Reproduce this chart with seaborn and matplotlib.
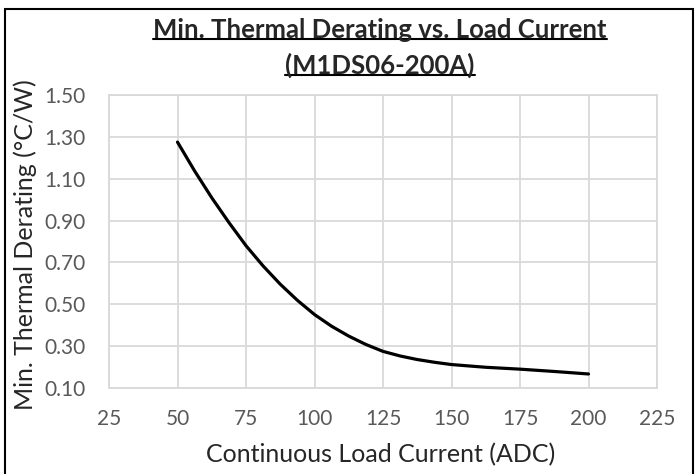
import matplotlib
matplotlib.use("Agg")
import matplotlib.pyplot as plt
import seaborn as sns
import pandas as pd
from matplotlib.lines import Line2D
from matplotlib.patches import Rectangle

# Values
current_adc = [50, 56.25, 62.5, 68.75, 75, 81.25, 87.5, 93.75, 100, 106.25, 112.5,
               118.75, 125, 131.25, 137.5, 143.75, 150, 162.5, 175, 187.5, 200]
derating_cw = [1.275, 1.137, 1.009, 0.891, 0.780, 0.683, 0.596, 0.519, 0.451, 0.395,
               0.348, 0.308, 0.275, 0.253, 0.236, 0.223, 0.212, 0.199, 0.190, 0.179,
               0.167]

x_ticks = [25, 50, 75, 100, 125, 150, 175, 200, 225]
y_ticks = [0.10, 0.30, 0.50, 0.70, 0.90, 1.10, 1.30, 1.50]

title_lines = ["Min. Thermal Derating vs. Load Current", "(M1DS06-200A)"]
x_label = "Continuous Load Current (ADC)"
y_label = "Min. Thermal Derating (°C/W)"

sns.set_theme(style="white")
plt.rcParams["font.family"] = ["Lato", "DejaVu Sans"]

W, H = 700, 474
fig = plt.figure(figsize=(7, 4.74), dpi=100)
ax = fig.add_axes([109 / W, 1 - 388 / H, (657 - 109) / W, (388 - 95) / H])

df = pd.DataFrame({"current": current_adc, "derating": derating_cw})
sns.lineplot(data=df, x="current", y="derating", color="black", linewidth=2.3,
             ax=ax, sort=False)

grid_col = "#d9d9d9"
ax.set_xlim(25, 225)
ax.set_ylim(0.10, 1.50)
ax.set_xticks(x_ticks)
ax.set_yticks(y_ticks)
ax.set_yticklabels([f"{v:.2f}" for v in y_ticks])
ax.grid(True, color=grid_col, linewidth=1.3)
for sp in ax.spines.values():
    sp.set_color(grid_col)
    sp.set_linewidth(1.3)
ax.tick_params(axis="both", length=0, labelsize=15, colors="#595959")
ax.tick_params(axis="x", pad=15)
ax.tick_params(axis="y", pad=17)
ax.set_xlabel("")
ax.set_ylabel("")

fig.text(381 / W, 1 - 455 / H, x_label, ha="center", va="center", fontsize=18)
fig.text(25 / W, 1 - 245 / H, y_label, ha="center", va="center", rotation=90,
         fontsize=18)

t1 = fig.text(380 / W, 1 - 30 / H, title_lines[0], ha="center", va="center",
              fontsize=18.5, fontweight="bold")
t2 = fig.text(380 / W, 1 - 65 / H, title_lines[1], ha="center", va="center",
              fontsize=18.5, fontweight="bold")

# underline the title lines
fig.canvas.draw()
r = fig.canvas.get_renderer()
for t in (t1, t2):
    bb = t.get_window_extent(r)
    yb = bb.y0 + 3
    fig.add_artist(Line2D([bb.x0 / W, bb.x1 / W], [yb / H, yb / H],
                          transform=fig.transFigure, color="black", linewidth=1.5))

# chart border
fig.add_artist(Rectangle((5 / W, -10 / H), 688 / W, (H - 9 + 10) / H,
                         transform=fig.transFigure, fill=False,
                         edgecolor="black", linewidth=1.5))

fig.savefig("out.png", dpi=100)
